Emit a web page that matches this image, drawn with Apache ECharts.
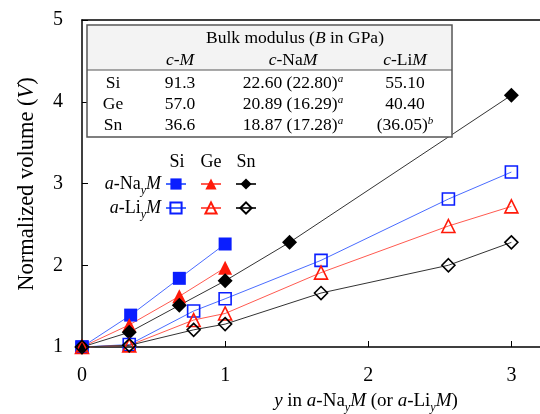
<!DOCTYPE html>
<html>
<head>
<meta charset="utf-8">
<script src="https://cdn.jsdelivr.net/npm/echarts@6/dist/echarts.min.js"></script>
<style>
html,body{margin:0;padding:0;background:#fff;}
#chart{width:540px;height:414px;}
</style>
</head>
<body>
<div id="chart"></div>
<script>
// ---- data ----
var xNaSi = [0, 0.34, 0.68, 1.0];
var yNaSi = [1, 1.39, 1.84, 2.26];
var xNaGe = [0, 0.33, 0.68, 1.0];
var yNaGe = [1, 1.27, 1.62, 1.97];
var xNaSn = [0, 0.33, 0.68, 1.0, 1.45, 3.0];
var yNaSn = [1, 1.18, 1.51, 1.81, 2.28, 4.08];
var xLi = [0, 0.33, 0.78, 1.0, 1.67, 2.56, 3.0];
var yLiSi = [1, 1.03, 1.44, 1.59, 2.06, 2.81, 3.14];
var yLiGe = [1, 1.02, 1.33, 1.41, 1.91, 2.48, 2.72];
var yLiSn = [1, 1.02, 1.21, 1.28, 1.66, 2.00, 2.28];
var xTicks = [0, 1, 2, 3];
var yTicks = [1, 2, 3, 4, 5];
var elements = ['Si', 'Ge', 'Sn'];
var colCM = ['91.3', '57.0', '36.6'];
var colCNaM = ['22.60 (22.80)', '20.89 (16.29)', '18.87 (17.28)'];
var colCNaMNote = ['a', 'a', 'a'];
var colCLiM = ['55.10', '40.40', '(36.05)'];
var colCLiMNote = ['', '', 'b'];

function pairs(xs, ys){ return xs.map(function(x,i){ return [x, ys[i]]; }); }

var FONT = 'Liberation Serif';
var BLUE = '#0a1eff', BLUEL = '#4a6cff', RED = '#ff1a0a', REDL = '#ff5a50', BLK = '#000', BLKL = '#333';

function mkSeries(name, data, symbol, size, markerColor, lineColor, filled){
  return {
    name: name, type: 'line', data: data, symbol: symbol, symbolSize: size,
    clip: false, z: 3,
    lineStyle: {color: lineColor, width: 1},
    itemStyle: filled ? {color: markerColor} : {color: 'rgba(255,255,255,0)', borderColor: markerColor, borderWidth: 1.6},
    emphasis: {disabled: true}
  };
}

var series = [
  mkSeries('NaSi', pairs(xNaSi, yNaSi), 'rect', 13, BLUE, BLUEL, true),
  mkSeries('NaGe', pairs(xNaGe, yNaGe), 'triangle', 14, RED, REDL, true),
  mkSeries('NaSn', pairs(xNaSn, yNaSn), 'diamond', 15, BLK, BLKL, true),
  mkSeries('LiSi', pairs(xLi, yLiSi), 'rect', 12, BLUE, BLUEL, false),
  mkSeries('LiGe', pairs(xLi, yLiGe), 'triangle', 13, RED, REDL, false),
  mkSeries('LiSn', pairs(xLi, yLiSn), 'diamond', 13, BLK, BLKL, false)
];

// table graphics
var tL = 87, tT = 25, tR = 452, tB = 137, tSep = 70;
var colX = [180, 293, 405], rowX = 113, rowY = [83, 104, 125];
var TFS = 17.5;
var tStyle = {fontFamily: FONT, fontSize: TFS, fill: '#000'};
function txt(x, y, text, rich){
  var s = Object.assign({}, tStyle, {x: x, y: y, text: text, align: 'center', verticalAlign: 'middle'});
  if (rich) s.rich = rich;
  return {type: 'text', z: 20, style: s};
}
var tRich = {
  i: {fontFamily: FONT, fontSize: TFS, fontStyle: 'italic', fill: '#000'},
  n: {fontFamily: FONT, fontSize: TFS, fill: '#000'},
  sup: {fontFamily: FONT, fontSize: 11, fontStyle: 'italic', verticalAlign: 'top', fill: '#000', lineHeight: 19}
};
var graphics = [
  {type: 'rect', z: 19, shape: {x: tL, y: tT, width: tR - tL, height: tB - tT}, style: {fill: '#fff', stroke: '#555', lineWidth: 1.5}},
  {type: 'rect', z: 19, shape: {x: tL + 1, y: tT + 1, width: tR - tL - 2, height: tSep - tT - 1}, style: {fill: '#f3f3f3'}},
  {type: 'line', z: 20, shape: {x1: tL, y1: tSep, x2: tR, y2: tSep}, style: {stroke: '#555', lineWidth: 1}},
  txt(295, 38, '{n|Bulk modulus (}{i|B}{n| in GPa)}', tRich)
];
var colHead = ['{i|c}{n|-}{i|M}', '{i|c}{n|-Na}{i|M}', '{i|c}{n|-Li}{i|M}'];
colHead.forEach(function(h, i){ graphics.push(txt(colX[i], 60, h, tRich)); });
elements.forEach(function(el, r){
  graphics.push(txt(rowX, rowY[r], el));
  graphics.push(txt(colX[0], rowY[r], colCM[r]));
  graphics.push(txt(colX[1], rowY[r], '{n|' + colCNaM[r] + '}{sup|' + colCNaMNote[r] + '}', tRich));
  graphics.push(txt(colX[2], rowY[r], '{n|' + colCLiM[r] + '}' + (colCLiMNote[r] ? '{sup|' + colCLiMNote[r] + '}' : ''), tRich));
});
// legend headers and labels
var lRich = {
  i: {fontFamily: FONT, fontSize: 18, fontStyle: 'italic', fill: '#000'},
  n: {fontFamily: FONT, fontSize: 18, fill: '#000'},
  sub: {fontFamily: FONT, fontSize: 12, fontStyle: 'italic', verticalAlign: 'bottom', fill: '#000', lineHeight: 25}
};
var legX = [177, 211, 246];
elements.forEach(function(el, i){
  graphics.push({type: 'text', z: 10, style: {x: legX[i], y: 162, text: el, align: 'center', verticalAlign: 'middle', fontFamily: FONT, fontSize: 18, fill: '#000'}});
});
graphics.push({type: 'text', z: 10, style: {x: 161, y: 184, text: '{i|a}{n|-Na}{sub|y}{i|M}', rich: lRich, align: 'right', verticalAlign: 'middle'}});
graphics.push({type: 'text', z: 10, style: {x: 161, y: 208, text: '{i|a}{n|-Li}{sub|y}{i|M}', rich: lRich, align: 'right', verticalAlign: 'middle'}});

// axis titles
var aRich = {
  i: {fontFamily: FONT, fontSize: 19, fontStyle: 'italic', fill: '#000'},
  n: {fontFamily: FONT, fontSize: 19, fill: '#000'},
  sub: {fontFamily: FONT, fontSize: 12, fontStyle: 'italic', verticalAlign: 'bottom', fill: '#000', lineHeight: 26}
};
var yRich = {
  i: {fontFamily: FONT, fontSize: 22.5, fontStyle: 'italic', fill: '#000'},
  n: {fontFamily: FONT, fontSize: 22.5, fill: '#000'}
};
graphics.push({type: 'text', z: 10, x: 27, y: 184, rotation: Math.PI / 2,
  style: {x: 0, y: 0, text: '{n|Normalized volume (}{i|V}{n|)}', rich: yRich, align: 'center', verticalAlign: 'middle'}});
graphics.push({type: 'text', z: 10,
  style: {x: 366, y: 401, text: '{i|y}{n| in }{i|a}{n|-Na}{sub|y}{i|M}{n| (or }{i|a}{n|-Li}{sub|y}{i|M}{n|)}', rich: aRich, align: 'center', verticalAlign: 'middle'}});

var chart = echarts.init(document.getElementById('chart'), null, {renderer: 'canvas'});
var legCommon = {left: 165, itemWidth: 20, itemHeight: 14, itemGap: 13, formatter: function(){ return ''; }, selectedMode: false, orient: 'horizontal', padding: 0, textStyle: {fontSize: 1}};
chart.setOption({
  backgroundColor: '#fff',
  animation: false,
  grid: {left: 82, top: 20, width: 470, height: 327, containLabel: false},
  legend: [
    Object.assign({data: ['NaSi', 'NaGe', 'NaSn'], top: 177}, legCommon),
    Object.assign({data: ['LiSi', 'LiGe', 'LiSn'], top: 201}, legCommon)
  ],
  xAxis: [
    {type: 'value', min: 0, max: 3.2, interval: 1, position: 'bottom',
     axisLine: {show: true, onZero: false, lineStyle: {color: '#000', width: 1.5}},
     axisTick: {show: true, inside: true, length: 6, lineStyle: {color: '#000', width: 1}},
     axisLabel: {show: true, margin: 19, fontFamily: FONT, fontSize: 20, color: '#000', showMaxLabel: false,
       formatter: function(v){ return xTicks.indexOf(v) >= 0 ? String(v) : ''; }},
     splitLine: {show: false}},
    {type: 'value', min: 0, max: 3.2, position: 'top',
     axisLine: {show: true, onZero: false, lineStyle: {color: '#000', width: 1.5}},
     axisTick: {show: false}, axisLabel: {show: false}, splitLine: {show: false}}
  ],
  yAxis: {type: 'value', min: 1, max: 5, interval: 1,
    axisLine: {show: true, onZero: false, lineStyle: {color: '#000', width: 1.5}},
    axisTick: {show: true, inside: true, length: 6, lineStyle: {color: '#000', width: 1}},
    axisLabel: {show: true, margin: 19, fontFamily: FONT, fontSize: 20, color: '#000',
      formatter: function(v){ return yTicks.indexOf(v) >= 0 ? String(v) : ''; }},
    splitLine: {show: false}},
  graphic: graphics,
  series: series
});
</script>
</body>
</html>
